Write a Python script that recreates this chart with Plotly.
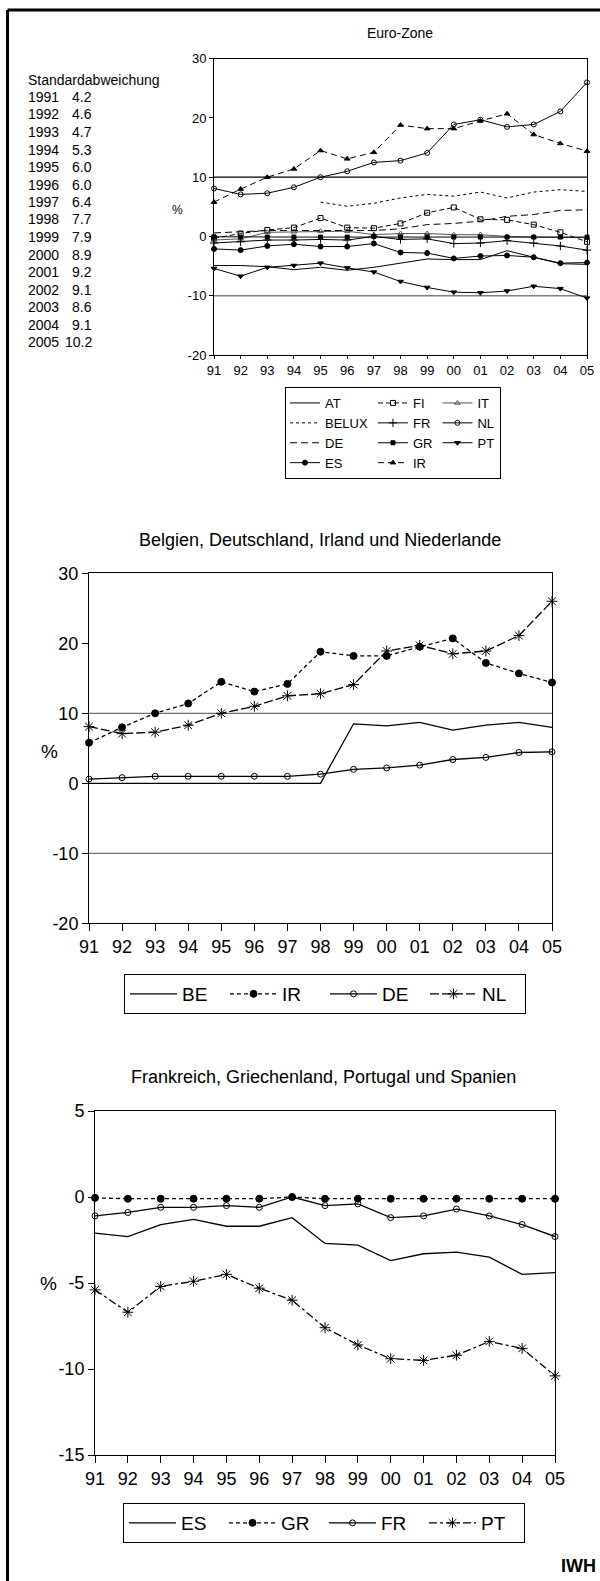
import plotly.graph_objects as go

W, H = 600, 1581

# x categories
years = ["91", "92", "93", "94", "95", "96", "97", "98", "99", "00", "01", "02", "03", "04", "05"]

# Standardabweichung block
sd_years = ["1991", "1992", "1993", "1994", "1995", "1996", "1997", "1998",
            "1999", "2000", "2001", "2002", "2003", "2004", "2005"]
sd_values = ["4.2", "4.6", "4.7", "5.3", "6.0", "6.0", "6.4", "7.7",
             "7.9", "8.9", "9.2", "9.1", "8.6", "9.1", "10.2"]

# series (in %)
at = [-4.9, -4.9, -5.1, -5.6, -5.2, -5.7, -5.2, -4.5, -3.8, -3.9, -3.9, -2.4, -3.5, -4.6, -4.7]
fi = [-0.3, 0.5, 1.1, 1.5, 3.1, 1.5, 1.4, 2.2, 4.0, 4.9, 2.9, 2.8, 2.0, 0.7, -0.9]
it = [-0.6, -0.4, 0.7, 0.8, 0.9, 0.9, 0.3, 0.5, 0.5, 0.3, 0.3, 0.0, -0.1, -0.1, -0.2]
belux = [None, None, None, None, 5.8, 5.1, 5.6, 6.5, 7.1, 6.8, 7.5, 6.5, 7.5, 7.9, 7.6]
fr = [-1.1, -0.9, -0.6, -0.6, -0.5, -0.6, 0.0, -0.5, -0.4, -1.2, -1.1, -0.7, -1.1, -1.6, -2.3]
nl = [8.1, 7.1, 7.3, 8.3, 10.0, 11.0, 12.5, 12.8, 14.1, 18.9, 19.7, 18.5, 18.9, 21.1, 26.0]
de = [0.6, 0.8, 1.0, 1.0, 1.0, 1.0, 1.0, 1.3, 2.0, 2.2, 2.6, 3.4, 3.7, 4.4, 4.5]
gr = [-0.05, -0.1, -0.1, -0.1, -0.1, -0.1, 0.0, -0.1, -0.1, -0.1, -0.1, -0.1, -0.1, -0.1, -0.1]
pt = [-5.4, -6.7, -5.2, -4.9, -4.5, -5.3, -6.0, -7.6, -8.6, -9.4, -9.5, -9.2, -8.4, -8.8, -10.4]
es = [-2.1, -2.3, -1.6, -1.3, -1.7, -1.7, -1.2, -2.7, -2.8, -3.7, -3.3, -3.2, -3.5, -4.5, -4.4]
ir = [5.8, 8.0, 10.0, 11.4, 14.5, 13.1, 14.2, 18.8, 18.2, 18.2, 19.5, 20.7, 17.2, 15.7, 14.4]
be = [0.0, 0.0, 0.0, 0.0, 0.0, 0.0, 0.0, 0.0, 8.5, 8.2, 8.7, 7.6, 8.3, 8.7, 8.0]

# y ticks
y_ticks_12 = [-20, -10, 0, 10, 20, 30]
y_ticks_3 = [-15, -10, -5, 0, 5]
ref_lines = [10, -10]

FONT = "Liberation Sans, Arial, sans-serif"


def px(x):
    return x / W


def py(y):
    return 1 - y / H


def add_line(fig, y, name, ax, legend, dash="solid", symbol=None, size=5,
             color="black", group=None, width=1):
    fig.add_trace(go.Scatter(
        x=years, y=y, name=name,
        mode="lines+markers" if symbol else "lines",
        line=dict(color=color, width=width, dash=dash),
        marker=dict(symbol=symbol or "circle", size=size, color=color,
                    line=dict(color=color, width=1)),
        xaxis="x" + ax, yaxis="y" + ax, legend=legend,
        legendgroup=group, cliponaxis=False, connectgaps=False,
    ))


fig = go.Figure()

# Euro-Zone
add_line(fig, at, "AT", "", "legend", group="c1")
add_line(fig, fi, "FI", "", "legend", dash="5px,3px", symbol="square-open", group="c2")
add_line(fig, it, "IT", "", "legend", symbol="triangle-up-open", color="#555555", group="c3")
add_line(fig, belux, "BELUX", "", "legend", dash="3px,3px", group="c1")
add_line(fig, fr, "FR", "", "legend", symbol="cross-thin", size=6, group="c2")
add_line(fig, nl, "NL", "", "legend", symbol="circle-open", group="c3")
add_line(fig, de, "DE", "", "legend", dash="7px,4px", group="c1")
add_line(fig, gr, "GR", "", "legend", symbol="square", size=4, group="c2")
add_line(fig, pt, "PT", "", "legend", symbol="triangle-down", group="c3")
add_line(fig, es, "ES", "", "legend", symbol="circle", size=5, group="c1")
add_line(fig, ir, "IR", "", "legend", dash="6px,4px", symbol="triangle-up", group="c2")

# Belgien, Deutschland, Irland und Niederlande
add_line(fig, be, "BE", "2", "legend2", width=1.3)
add_line(fig, ir, "IR", "2", "legend2", dash="4px,3px", symbol="circle", size=7, width=1.3)
add_line(fig, de, "DE", "2", "legend2", symbol="circle-open", size=6, width=1.3)
add_line(fig, nl, "NL", "2", "legend2", dash="9px,3px", symbol="asterisk-open", size=9, width=1.3)

# Frankreich, Griechenland, Portugal und Spanien
add_line(fig, es, "ES", "3", "legend3", width=1.3)
add_line(fig, gr, "GR", "3", "legend3", dash="4px,3px", symbol="circle", size=7, width=1.3)
add_line(fig, fr, "FR", "3", "legend3", symbol="circle-open", size=6, width=1.3)
add_line(fig, pt, "PT", "3", "legend3", dash="8px,3px,3px,3px", symbol="asterisk-open", size=9, width=1.3)

axis_common = dict(showline=True, linecolor="black", linewidth=1, mirror=True,
                   ticks="outside", tickcolor="black", showgrid=False, zeroline=False)

panels = [
    # suffix, x domain px, y domain px (top, bottom), y range, y ticks, font, x/y ticklen
    ("", (214, 587), (58.7, 355), [-20, 30], y_ticks_12, 13, 3, 4),
    ("2", (89, 552), (573.3, 923.3), [-20, 30], y_ticks_12, 18, 7, 6),
    ("3", (95, 555), (1111, 1455), [-15, 5], y_ticks_3, 18, 7, 6),
]
for suf, (x0, x1), (ytop, ybot), yr, yt, fs, xtl, ytl in panels:
    fig.update_layout(**{
        "xaxis" + suf: dict(axis_common, domain=[px(x0), px(x1)], type="category",
                            range=[0, 14], anchor="y" + suf, ticklen=xtl,
                            tickfont=dict(size=fs, color="black", family=FONT)),
        "yaxis" + suf: dict(axis_common, domain=[py(ybot), py(ytop)], range=yr,
                            tickvals=yt, ticktext=[str(v) for v in yt],
                            anchor="x" + suf, ticklen=ytl,
                            tickfont=dict(size=fs, color="black", family=FONT)),
    })

# reference lines at +/-10
shapes = []
for ax, col10, colm10 in [("", "black", "#808080"), ("2", "#707070", "#707070")]:
    for v, c in zip(ref_lines, [col10, colm10]):
        shapes.append(dict(type="line", xref="x%s domain" % ax, yref="y" + ax,
                           x0=0, x1=1, y0=v, y1=v, layer="below",
                           line=dict(color=c, width=1.3)))
# outer frame (top and left)
shapes.append(dict(type="line", xref="paper", yref="paper", x0=px(7.5), x1=1,
                   y0=py(10), y1=py(10), line=dict(color="black", width=3)))
shapes.append(dict(type="line", xref="paper", yref="paper", x0=px(7.5), x1=px(7.5),
                   y0=py(10), y1=0, line=dict(color="black", width=3)))

ann = []


def text(x, y, s, size, xanchor="center", bold=False):
    ann.append(dict(x=px(x), y=py(y), xref="paper", yref="paper", text=s,
                    showarrow=False, xanchor=xanchor, yanchor="middle",
                    font=dict(size=size, color="black", family=FONT,
                              weight="bold" if bold else "normal")))


text(400, 33, "Euro-Zone", 14)
text(320, 540, "Belgien, Deutschland, Irland und Niederlande", 18)
text(323, 1077, "Frankreich, Griechenland, Portugal und Spanien", 18)
text(177, 210, "%", 12)
text(49, 752, "%", 19)
text(48, 1283, "%", 19)
text(26, 80, "Standardabweichung", 14, xanchor="left")
for i, (yr_, v) in enumerate(zip(sd_years, sd_values)):
    text(26, 97 + 17.5 * i, yr_, 14, xanchor="left")
    text(94, 97 + 17.5 * i, v, 14, xanchor="right")
text(598, 1566, "IWH", 18, xanchor="right", bold=True)

legend_common = dict(orientation="h", xanchor="left", yanchor="top",
                     bordercolor="black", borderwidth=1, bgcolor="white")
fig.update_layout(
    width=W, height=H,
    margin=dict(l=0, r=0, t=0, b=0, autoexpand=False),
    paper_bgcolor="white", plot_bgcolor="white",
    font=dict(family=FONT, color="black"),
    shapes=shapes, annotations=ann,
    legend=dict(legend_common, x=px(285), y=py(387), traceorder="grouped",
                tracegroupgap=0, itemwidth=30, font=dict(size=13)),
    legend2=dict(legend_common, x=px(124), y=py(974), itemwidth=47,
                 entrywidth=38, font=dict(size=19)),
    legend3=dict(legend_common, x=px(123), y=py(1503), itemwidth=47,
                 entrywidth=38, font=dict(size=19)),
)

fig.write_html("out.html", config={"displayModeBar": False},
               post_script="document.body.style.margin='0';")
